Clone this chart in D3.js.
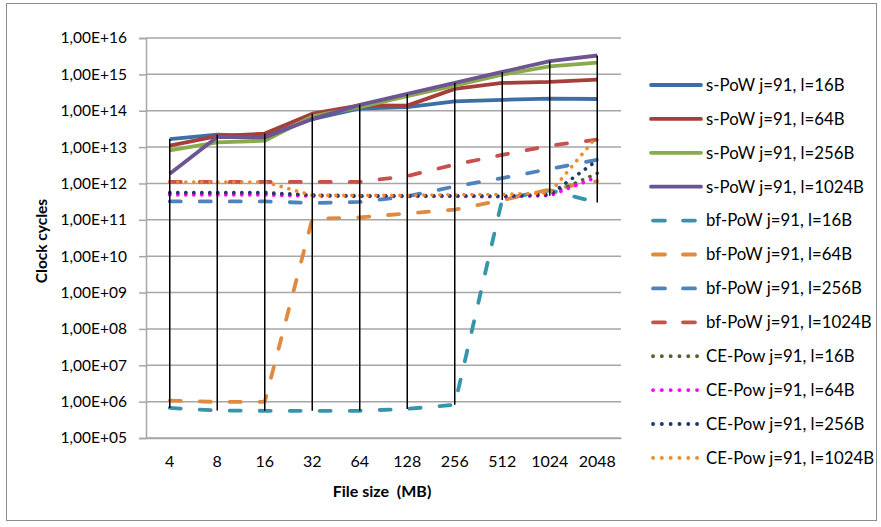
<!DOCTYPE html>
<html><head><meta charset="utf-8">
<script src="https://cdn.jsdelivr.net/npm/d3@7/dist/d3.min.js"></script>
<style>body{margin:0;background:#fff}svg{display:block}text{font-family:Lato,"Open Sans",sans-serif;fill:#000}</style>
</head><body><svg id="c" width="881" height="527"></svg>
<script>
const categories = ["4","8","16","32","64","128","256","512","1024","2048"];
const yTicks = [1e5,1e6,1e7,1e8,1e9,1e10,1e11,1e12,1e13,1e14,1e15,1e16];
const seriesNames = ["s-PoW j=91, l=16B","s-PoW j=91, l=64B","s-PoW j=91, l=256B","s-PoW j=91, l=1024B",
  "bf-PoW j=91, l=16B","bf-PoW j=91, l=64B","bf-PoW j=91, l=256B","bf-PoW j=91, l=1024B",
  "CE-Pow j=91, l=16B","CE-Pow j=91, l=64B","CE-Pow j=91, l=256B","CE-Pow j=91, l=1024B"];
const sPow16   = [1.66e13,2.2e13,2.0e13,5.9e13,1.15e14,1.25e14,1.8e14,2.0e14,2.15e14,2.1e14];
const sPow64   = [1.1e13,2.0e13,2.35e13,8.3e13,1.4e14,1.38e14,4.0e14,5.8e14,6.2e14,7.2e14];
const sPow256  = [8.1e12,1.35e13,1.5e13,7.0e13,1.25e14,2.5e14,4.9e14,9.8e14,1.66e15,2.1e15];
const sPow1024 = [1.85e12,1.9e13,1.85e13,5.9e13,1.45e14,2.9e14,5.8e14,1.17e15,2.3e15,3.3e15];
const bf16     = [6.7e5,5.7e5,5.6e5,5.6e5,5.6e5,6.3e5,8.2e5,3.7e11,6.5e11,3.0e11];
const bf64     = [1.07e6,9.8e5,9.8e5,1.05e11,1.17e11,1.5e11,1.9e11,3.5e11,6.8e11,1.15e12];
const bf256    = [3.2e11,3.2e11,3.2e11,2.9e11,3.1e11,4.4e11,8.3e11,1.4e12,2.5e12,4.5e12];
const bf1024   = [1.1e12,1.1e12,1.1e12,1.1e12,1.1e12,1.6e12,3.3e12,6.1e12,1.1e13,1.6e13];
const ce16     = [5.2e11,5.2e11,5.2e11,4.6e11,4.5e11,4.5e11,4.5e11,4.4e11,5.0e11,1.9e12];
const ce64     = [4.8e11,4.8e11,4.8e11,4.5e11,4.4e11,4.4e11,4.4e11,4.3e11,4.6e11,1.5e12];
const ce256    = [5.6e11,5.6e11,5.6e11,4.8e11,4.6e11,4.6e11,4.6e11,4.5e11,4.9e11,4.3e12];
const ce1024   = [1.1e12,1.1e12,1.1e12,4.7e11,4.7e11,4.7e11,4.9e11,5.0e11,5.5e11,2.0e13];
const seriesValues = [sPow16,sPow64,sPow256,sPow1024,bf16,bf64,bf256,bf1024,ce16,ce64,ce256,ce1024];
const colors = ["#3D6FA6","#A53F3B","#8AAB4C","#6D5592","#3795AA","#E08A3E","#4F83C0","#C8514E","#4F6228","#FF00FF","#1F3864","#F08A2A"];
const styles = ["solid","solid","solid","solid","dash","dash","dash","dash","dot","dot","dot","dot"];

const svg = d3.select("#c");
svg.append("rect").attr("x",6.5).attr("y",3.5).attr("width",870).attr("height",517).attr("fill","#fff").attr("stroke","#8c8c8c").attr("stroke-width",1);

const L=146, R=621, T=38, B=438;
const x = d3.scaleBand().domain(categories).range([L,R]).padding(0);
const cx = c => x(c) + x.bandwidth()/2;
const y = d3.scaleLog().domain([1e5,1e16]).range([B,T]);

const fmt = v => { const e = Math.round(Math.log10(v)); return "1,00E+" + String(e).padStart(2,"0"); };

// gridlines
svg.append("g").selectAll("line").data(yTicks).join("line")
  .attr("x1",L).attr("x2",R).attr("y1",d=>y(d)).attr("y2",d=>y(d))
  .attr("stroke","#a6a6a6").attr("stroke-width",1.5);

// y axis
const yAxis = svg.append("g").attr("transform",`translate(${L},0)`)
  .call(d3.axisLeft(y).tickValues(yTicks).tickFormat(fmt).tickSize(7).tickPadding(12));
yAxis.select(".domain").attr("stroke","#a6a6a6").attr("stroke-width",1.5);
yAxis.selectAll(".tick line").attr("stroke","#a6a6a6").attr("stroke-width",1.5);
yAxis.selectAll(".tick text").style("font-size","15.5px").attr("fill","#000");

// x axis
const xAxis = svg.append("g").attr("transform",`translate(0,${B})`)
  .call(d3.axisBottom(x).tickSize(0).tickPadding(18));
xAxis.select(".domain").attr("stroke","#a6a6a6").attr("stroke-width",1.5);
xAxis.selectAll(".tick text").style("font-size","16px").attr("fill","#000");

// titles
svg.append("text").attr("x",382).attr("y",497).attr("text-anchor","middle")
  .style("font-size","16px").style("font-weight","bold").style("white-space","pre").text("File size  (MB)");
svg.append("text").attr("transform","translate(47,241) rotate(-90)").attr("text-anchor","middle")
  .style("font-size","15.5px").style("font-weight","bold").text("Clock cycles");

const dashArr = s => s==="dash" ? "11,19" : s==="dot" ? "0.1,7.9" : null;
const line = d3.line().x((d,i)=>cx(categories[i])).y(d=>y(d));

const g = svg.append("g");
seriesValues.forEach((vals,k)=>{
  g.append("path").attr("d",line(vals)).attr("fill","none")
    .attr("stroke",colors[k]).attr("stroke-width",styles[k]==="dot"?3.6:3.8)
    .attr("stroke-linecap",styles[k]==="solid"?"butt":"round")
    .attr("stroke-linejoin","round")
    .attr("stroke-dasharray",dashArr(styles[k]));
});

// high-low lines
const hl = categories.map((c,i)=>{
  const vs = seriesValues.map(s=>s[i]);
  return {c, hi:d3.max(vs), lo:d3.min(vs)};
});
svg.append("g").selectAll("line").data(hl).join("line")
  .attr("x1",d=>cx(d.c)).attr("x2",d=>cx(d.c)).attr("y1",d=>y(d.hi)).attr("y2",d=>y(d.lo))
  .attr("stroke","#000").attr("stroke-width",1.5);

// legend
const leg = svg.append("g");
seriesNames.forEach((n,k)=>{
  const yy = 85 + k*33.9;
  leg.append("line").attr("x1",styles[k]==="solid"?651:653).attr("x2",styles[k]==="solid"?701:699)
    .attr("y1",yy).attr("y2",yy).attr("stroke",colors[k]).attr("stroke-width",3.8)
    .attr("stroke-linecap","round")
    .attr("stroke-dasharray", styles[k]==="dash" ? "12,18" : styles[k]==="dot" ? "0.1,8.7" : null);
  leg.append("text").attr("x",706).attr("y",yy+5.8).style("font-size","16.8px").text(n);
});
</script></body></html>
